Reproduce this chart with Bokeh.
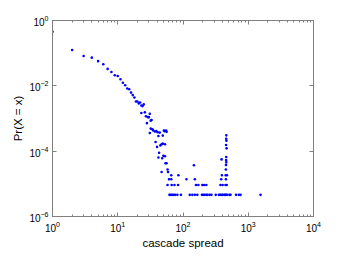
from bokeh.plotting import figure
from bokeh.models import FixedTicker, LogAxis, Range1d, CustomJSTickFormatter
from bokeh.embed import file_html
from bokeh.resources import INLINE

# ---- data ----
body_spread = [1, 2, 3, 4, 5, 6, 7, 8, 9, 10, 11, 12, 13, 14, 15, 16, 17, 18,
               19, 20, 21, 22, 23, 23, 24, 25, 26, 27, 28, 29, 30, 31, 31, 32, 32,
               33, 34, 35, 37, 38, 39, 40, 41, 42, 42, 43, 44, 45, 47, 47, 48, 49,
               49, 50, 51, 52, 53, 53, 54, 55, 56, 56, 58, 59]
body_prob = [0.45, 0.125, 0.082, 0.073, 0.057, 0.046, 0.033, 0.0266, 0.021, 0.0201,
             0.0159, 0.0124, 0.0104, 0.0083, 0.0079, 0.0062, 0.0052, 0.0044,
             0.0033, 0.0033, 0.0029, 0.0031, 0.00147, 0.0025, 0.0024, 0.0027,
             0.00154, 0.00117, 0.00072, 0.0011, 0.0011, 0.0014, 0.00036, 0.00086,
             0.00049, 0.0009, 0.00047, 0.00043, 0.0004, 0.00019, 0.00041, 0.000135,
             0.00038, 0.00029, 0.000064, 0.000089, 0.00037, 0.00015, 0.000162,
             0.000023, 0.000061, 0.0003, 0.00017, 0.000072, 0.00043, 0.00041,
             0.000162, 0.00007, 0.0000425, 0.00043, 0.00039, 0.0000425, 0.0000276,
             0.000023]

tail_spread = [66, 85, 147,
               61, 66, 113, 152,
               58, 67, 74, 84, 158, 172, 198, 210, 228,
               62, 65, 68, 72, 76, 82, 93, 127, 139, 152, 166, 195, 204, 215, 228,
               238, 256, 273, 318, 355, 370, 391, 405, 428, 445, 458, 475, 515, 535,
               650, 718, 762, 1542]
tail_prob = [1.84e-5, 1.84e-5, 3.7e-5,
             1.38e-5, 1.38e-5, 1.38e-5, 1.38e-5,
             9.2e-6, 9.2e-6, 9.2e-6, 9.2e-6, 9.2e-6, 9.2e-6, 9.2e-6, 9.2e-6, 9.2e-6,
             4.6e-6, 4.6e-6, 4.6e-6, 4.6e-6, 4.6e-6, 4.6e-6, 4.6e-6, 4.6e-6, 4.6e-6,
             4.6e-6, 4.6e-6, 4.6e-6, 4.6e-6, 4.6e-6, 4.6e-6, 4.6e-6, 4.6e-6, 4.6e-6,
             4.6e-6, 4.6e-6, 4.6e-6, 4.6e-6, 4.6e-6, 4.6e-6, 4.6e-6, 4.6e-6, 4.6e-6,
             4.6e-6, 4.6e-6, 4.6e-6, 4.6e-6, 4.6e-6, 4.6e-6]

spike_spread = [461, 459, 463, 457, 465, 460, 458, 462, 456, 390, 454,
                395, 450, 471, 385, 455, 375, 405, 448, 468]
spike_prob = [3.05e-4, 2.4e-4, 2.1e-4, 1.55e-4, 1.22e-4, 6.6e-5, 5.3e-5, 4.6e-5,
              3.8e-5, 5.6e-5, 2.76e-5, 1.84e-5, 1.84e-5, 1.84e-5, 1.38e-5, 1.38e-5,
              9.2e-6, 9.2e-6, 9.2e-6, 9.2e-6]

x_major = [1, 10, 100, 1000, 10000]
y_major = [1e-6, 1e-4, 1e-2, 1]

x_label = "cascade spread"
y_label = "Pr(X = x)"

FONT = "Liberation Sans"
AXIS_COLOR = "#808080"

x_minor = [k * m for m in x_major[:-1] for k in range(2, 10)]

p = figure(width=338, height=251, x_axis_type="log", y_axis_type="log",
           x_range=Range1d(1, 10000), y_range=Range1d(1e-6, 1),
           output_backend="svg", toolbar_location=None,
           min_border_left=52, min_border_right=25, min_border_top=20,
           min_border_bottom=32)

p.background_fill_color = "white"
p.border_fill_color = "white"
p.outline_line_color = AXIS_COLOR
p.xgrid.visible = False
p.ygrid.visible = False

xt = FixedTicker(ticks=x_major, minor_ticks=x_minor)
yt = FixedTicker(ticks=y_major, minor_ticks=[])

def style(ax, ticker, labels=True):
    ax.ticker = ticker
    ax.axis_line_color = AXIS_COLOR
    ax.major_tick_line_color = AXIS_COLOR
    ax.minor_tick_line_color = AXIS_COLOR
    ax.major_tick_in = 4
    ax.major_tick_out = 0
    ax.minor_tick_in = 2
    ax.minor_tick_out = 0
    ax.major_label_text_font = FONT
    ax.major_label_text_font_size = "10px"
    ax.major_label_text_color = "black"
    ax.axis_label_text_font = FONT
    ax.axis_label_text_font_size = "11.5px"
    ax.axis_label_text_font_style = "normal"
    ax.axis_label_text_color = "black"
    if not labels:
        ax.formatter = CustomJSTickFormatter(code="return ''")
        ax.major_label_standoff = 0

xa = p.xaxis[0]
ya = p.yaxis[0]
style(xa, xt)
style(ya, yt)
xa.major_label_standoff = 4
ya.major_label_standoff = 4
xa.axis_label = x_label
ya.axis_label = y_label
xa.axis_label_standoff = 2
ya.axis_label_standoff = 2

top = LogAxis()
style(top, xt, labels=False)
p.add_layout(top, "above")
right = LogAxis()
style(right, yt, labels=False)
p.add_layout(right, "right")

for xs, ys in [(body_spread, body_prob), (tail_spread, tail_prob), (spike_spread, spike_prob)]:
    p.scatter(xs, ys, marker="circle", size=2.6, fill_color="#0000ff",
              line_color=None)

open("out.html", "w").write(file_html(p, INLINE))
